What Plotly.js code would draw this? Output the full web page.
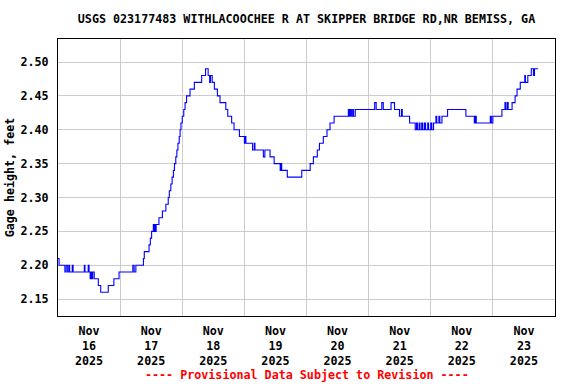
<!DOCTYPE html>
<html>
<head>
<meta charset="utf-8">
<script src="https://cdn.plot.ly/plotly-3.0.1.min.js"></script>
<style>
  html, body { margin: 0; padding: 0; background: #fff; }
  #chart { width: 576px; height: 384px; }
</style>
</head>
<body>
<div id="chart"></div>
<script>
const chartTitle = "USGS 023177483 WITHLACOOCHEE R AT SKIPPER BRIDGE RD,NR BEMISS, GA";
const yAxisTitle = "Gage height, feet";
const footerText = "---- Provisional Data Subject to Revision ----";

const yTicks = [2.15, 2.20, 2.25, 2.30, 2.35, 2.40, 2.45, 2.50];
const xRange = ["2025-11-16 00:00", "2025-11-24 00:00"];
const yRange = [2.125, 2.534];

const gageTimes = [
  "2025-11-16 00:00","2025-11-16 00:25","2025-11-16 02:40","2025-11-16 03:10","2025-11-16 03:45",
  "2025-11-16 04:15","2025-11-16 04:30","2025-11-16 05:30","2025-11-16 05:50","2025-11-16 10:10",
  "2025-11-16 10:25","2025-11-16 11:40","2025-11-16 12:00","2025-11-16 12:25","2025-11-16 12:40",
  "2025-11-16 13:00","2025-11-16 13:25","2025-11-16 14:00","2025-11-16 15:35","2025-11-16 16:30",
  "2025-11-16 19:25","2025-11-16 21:35","2025-11-16 23:35","2025-11-17 04:55","2025-11-17 05:25",
  "2025-11-17 06:05","2025-11-17 09:00","2025-11-17 09:20","2025-11-17 11:10","2025-11-17 11:40",
  "2025-11-17 12:10","2025-11-17 12:50","2025-11-17 13:05","2025-11-17 13:25","2025-11-17 13:35",
  "2025-11-17 13:55","2025-11-17 15:00","2025-11-17 16:20","2025-11-17 17:40","2025-11-17 18:35",
  "2025-11-17 19:00","2025-11-17 19:35","2025-11-17 20:05","2025-11-17 20:35","2025-11-17 21:00",
  "2025-11-17 21:30","2025-11-17 21:55","2025-11-17 22:20","2025-11-17 22:50","2025-11-17 23:10",
  "2025-11-17 23:30","2025-11-18 00:00","2025-11-18 00:35","2025-11-18 01:05","2025-11-18 01:40",
  "2025-11-18 03:00","2025-11-18 04:40","2025-11-18 07:30","2025-11-18 09:00","2025-11-18 10:00",
  "2025-11-18 10:35","2025-11-18 10:55","2025-11-18 11:35","2025-11-18 12:25","2025-11-18 13:35",
  "2025-11-18 14:35","2025-11-18 16:50","2025-11-18 17:35","2025-11-18 19:05","2025-11-18 20:00",
  "2025-11-18 22:05","2025-11-19 00:00","2025-11-19 00:20","2025-11-19 00:35","2025-11-19 03:10",
  "2025-11-19 03:50","2025-11-19 04:05","2025-11-19 07:20","2025-11-19 07:55","2025-11-19 09:55",
  "2025-11-19 11:30","2025-11-19 13:50","2025-11-19 14:05","2025-11-19 14:25","2025-11-19 16:35",
  "2025-11-19 22:10","2025-11-20 01:25","2025-11-20 02:40","2025-11-20 04:10","2025-11-20 05:00",
  "2025-11-20 06:30","2025-11-20 07:55","2025-11-20 09:05","2025-11-20 10:40","2025-11-20 16:10",
  "2025-11-20 16:30","2025-11-20 16:55","2025-11-20 17:20","2025-11-20 17:50","2025-11-20 18:10",
  "2025-11-20 18:50","2025-11-21 02:20","2025-11-21 02:55","2025-11-21 05:05","2025-11-21 05:40",
  "2025-11-21 08:40","2025-11-21 10:00","2025-11-21 11:55","2025-11-21 12:40","2025-11-21 13:00",
  "2025-11-21 15:50","2025-11-21 18:00","2025-11-21 18:30","2025-11-21 18:50","2025-11-21 19:30",
  "2025-11-21 19:50","2025-11-21 20:30","2025-11-21 20:55","2025-11-21 21:35","2025-11-21 22:00",
  "2025-11-21 22:50","2025-11-21 23:10","2025-11-22 00:00","2025-11-22 00:25","2025-11-22 01:05",
  "2025-11-22 02:00","2025-11-22 02:20","2025-11-22 03:10","2025-11-22 03:30","2025-11-22 04:20",
  "2025-11-22 06:30","2025-11-22 13:35","2025-11-22 16:50","2025-11-22 17:10","2025-11-22 17:35",
  "2025-11-22 23:00","2025-11-22 23:25","2025-11-23 00:00","2025-11-23 03:30","2025-11-23 04:40",
  "2025-11-23 05:00","2025-11-23 05:35","2025-11-23 05:55","2025-11-23 07:25","2025-11-23 08:35",
  "2025-11-23 09:20","2025-11-23 10:35","2025-11-23 12:20","2025-11-23 12:35","2025-11-23 13:30",
  "2025-11-23 14:50","2025-11-23 15:40","2025-11-23 16:05","2025-11-23 17:25"
];

const gageFeet = [
  2.21,2.20,2.19,2.20,2.19,
  2.20,2.19,2.20,2.19,2.20,
  2.19,2.20,2.19,2.18,2.19,
  2.18,2.19,2.18,2.17,2.16,
  2.17,2.18,2.19,2.20,2.19,
  2.20,2.21,2.22,2.23,2.24,
  2.25,2.26,2.25,2.26,2.25,
  2.26,2.27,2.28,2.29,2.30,
  2.31,2.32,2.33,2.34,2.35,
  2.36,2.37,2.38,2.39,2.40,
  2.41,2.42,2.43,2.44,2.45,
  2.46,2.47,2.48,2.49,2.48,
  2.47,2.48,2.47,2.46,2.45,
  2.44,2.43,2.42,2.41,2.40,
  2.39,2.38,2.39,2.38,2.37,
  2.38,2.37,2.36,2.37,2.36,
  2.35,2.34,2.35,2.34,2.33,
  2.34,2.35,2.36,2.37,2.38,
  2.39,2.40,2.41,2.42,2.43,
  2.42,2.43,2.42,2.43,2.42,
  2.43,2.44,2.43,2.44,2.43,
  2.44,2.43,2.42,2.43,2.42,
  2.41,2.40,2.41,2.40,2.41,
  2.40,2.41,2.40,2.41,2.40,
  2.41,2.40,2.41,2.40,2.41,
  2.42,2.41,2.42,2.41,2.42,
  2.43,2.42,2.41,2.42,2.41,
  2.42,2.41,2.42,2.43,2.44,
  2.43,2.44,2.43,2.44,2.45,
  2.46,2.47,2.48,2.47,2.48,
  2.49,2.48,2.49,2.49
];

const baseFont = { family: "DejaVu Sans Mono, Liberation Mono, monospace", size: 11.7, color: "#000", weight: "bold" };

const trace = {
  x: gageTimes,
  y: gageFeet,
  type: "scatter",
  mode: "lines",
  line: { color: "#0000ff", width: 1.1, shape: "hv" },
  hoverinfo: "skip"
};

const layout = {
  width: 576,
  height: 384,
  margin: { l: 58, r: 21, t: 39, b: 68, pad: 0 },
  paper_bgcolor: "#fff",
  plot_bgcolor: "#fff",
  font: baseFont,
  showlegend: false,
  title: {
    text: chartTitle,
    font: baseFont,
    x: 0.5, xref: "paper", xanchor: "center",
    y: 1 - 19 / 384, yref: "container", yanchor: "middle"
  },
  xaxis: {
    type: "date",
    range: xRange,
    tick0: xRange[0],
    dtick: 86400000,
    ticklabelmode: "period",
    tickformat: "%b<br>%d<br>%Y",
    ticks: "",
    showgrid: true,
    gridcolor: "#cccccc",
    gridwidth: 1,
    showline: true,
    linecolor: "#000",
    linewidth: 1,
    mirror: true,
    zeroline: false,
    tickfont: baseFont,
    ticklabelstandoff: 4,
    automargin: false
  },
  yaxis: {
    range: yRange,
    tickvals: yTicks,
    tickformat: ".2f",
    ticks: "",
    showgrid: true,
    gridcolor: "#cccccc",
    gridwidth: 1,
    showline: true,
    linecolor: "#000",
    linewidth: 1,
    mirror: true,
    zeroline: false,
    tickfont: baseFont,
    ticklabelstandoff: 6,
    automargin: false,
    title: { text: yAxisTitle, font: baseFont, standoff: 3 }
  },
  annotations: [{
    text: footerText,
    xref: "paper", yref: "paper",
    x: 0.5, y: -(375 - 316) / 277,
    xanchor: "center", yanchor: "middle",
    showarrow: false,
    font: { family: baseFont.family, size: 11.7, color: "#ff0000", weight: "bold" }
  }]
};

Plotly.newPlot("chart", [trace], layout, { staticPlot: true, displayModeBar: false });
</script>
</body>
</html>
